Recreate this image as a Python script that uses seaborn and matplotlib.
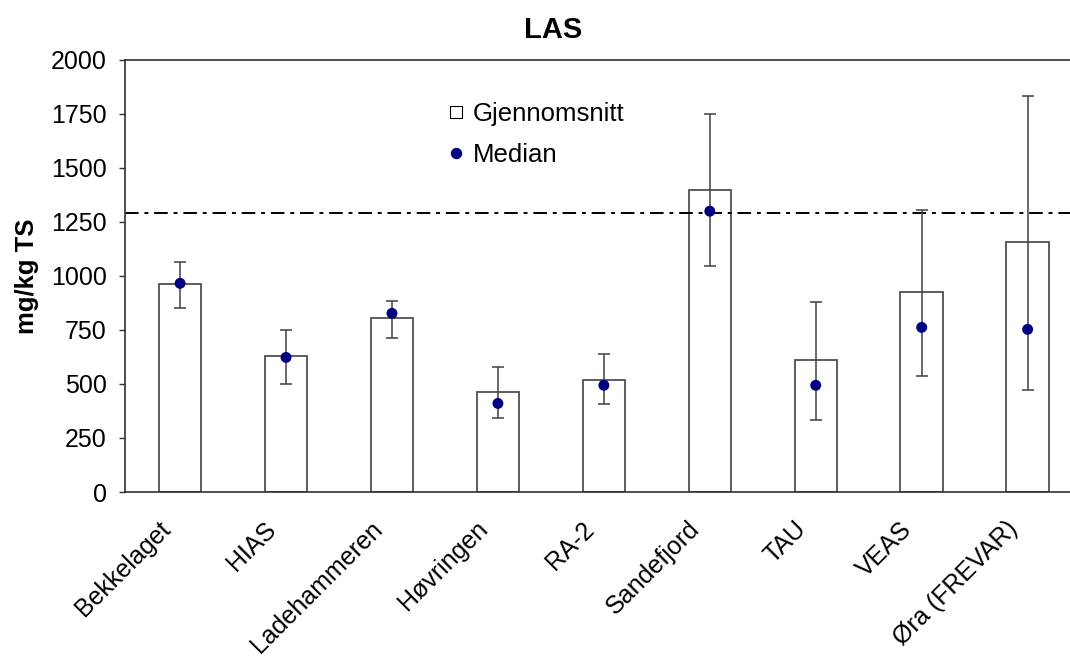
import matplotlib
matplotlib.use("Agg")
import matplotlib.pyplot as plt
from matplotlib.lines import Line2D
import seaborn as sns
import pandas as pd

categories = ["Bekkelaget", "HIAS", "Ladehammeren", "Høvringen", "RA-2",
              "Sandefjord", "TAU", "VEAS", "Øra (FREVAR)"]
mean_vals = [961, 628, 804, 461, 517, 1397, 610, 924, 1156]
median_vals = [966, 623, 827, 410, 494, 1300, 494, 762, 753]
err_high = [1063, 748, 886, 580, 637, 1749, 878, 1304, 1833]
err_low = [850, 498, 711, 341, 406, 1045, 332, 536, 471]
ref_line = 1290
yticks = [0, 250, 500, 750, 1000, 1250, 1500, 1750, 2000]

sns.set_theme(style="white")
plt.rcParams['font.family'] = ['Liberation Sans', 'DejaVu Sans']

df = pd.DataFrame({"cat": categories, "mean": mean_vals, "median": median_vals})

fig = plt.figure(figsize=(10.7, 6.59), dpi=100)
ax = fig.add_axes([125/1070, 1 - 492/659, 1 - 125/1070, (492 - 60)/659])

sns.barplot(data=df, x="cat", y="mean", ax=ax, color="white", edgecolor="#505050",
            linewidth=1.3, width=0.4, saturation=1)

xs = list(range(len(categories)))
lower = [m - l for m, l in zip(median_vals, err_low)]
upper = [h - m for m, h in zip(median_vals, err_high)]
ax.errorbar(xs, median_vals, yerr=[lower, upper], fmt="none", ecolor="#404040",
            elinewidth=1.1, capsize=4.5, capthick=1.1, zorder=3)
sns.scatterplot(data=df, x="cat", y="median", ax=ax, color="#000080", s=62,
                edgecolor="none", zorder=4, legend=False)

ax.axhline(ref_line, color="black", linestyle=(0, (7, 3, 2, 3)), linewidth=1.4, zorder=2)

ax.set_xlim(-0.52, 8.4)
ax.set_ylim(0, 2000)
ax.set_yticks(yticks)
ax.set_yticklabels([str(t) for t in yticks], fontsize=18, color="black")
ax.set_xticks(xs)
ax.set_xticklabels([""] * len(categories))
for i, name in enumerate(categories):
    ax.annotate(name, xy=(i, 0), xycoords=("data", "axes fraction"),
                xytext=(-22, -25), textcoords="offset pixels",
                rotation=45, ha="right", va="top", rotation_mode="anchor",
                fontsize=18, color="black", annotation_clip=False)
ax.tick_params(axis="y", direction="out", length=4.5, width=1, color="#303030", left=True, pad=8.5)
ax.tick_params(axis="x", length=0)
ax.set_xlabel("")
ax.set_ylabel("mg/kg TS", fontsize=18.5, fontweight="bold", labelpad=9, color="black")
ax.set_title("LAS", fontsize=21, fontweight="bold", pad=16, x=(553 - 125) / 945, color="black")

ax.spines["right"].set_visible(False)
for s in ["left", "bottom", "top"]:
    ax.spines[s].set_color("#303030")
    ax.spines[s].set_linewidth(1.2)

handles = [
    Line2D([], [], marker="s", linestyle="none", markerfacecolor="white",
           markeredgecolor="black", markersize=8.3, markeredgewidth=0.8, label="Gjennomsnitt"),
    Line2D([], [], marker="o", linestyle="none", markerfacecolor="#000080",
           markeredgecolor="#000080", markersize=7.2, label="Median"),
]
ax.legend(handles=handles, loc="upper left", bbox_to_anchor=(0.318, 0.956),
          frameon=False, fontsize=18.5, handlelength=0.6, handletextpad=0.33,
          labelspacing=0.65, borderpad=0.4, labelcolor="black")

fig.savefig("out.png", dpi=100)
